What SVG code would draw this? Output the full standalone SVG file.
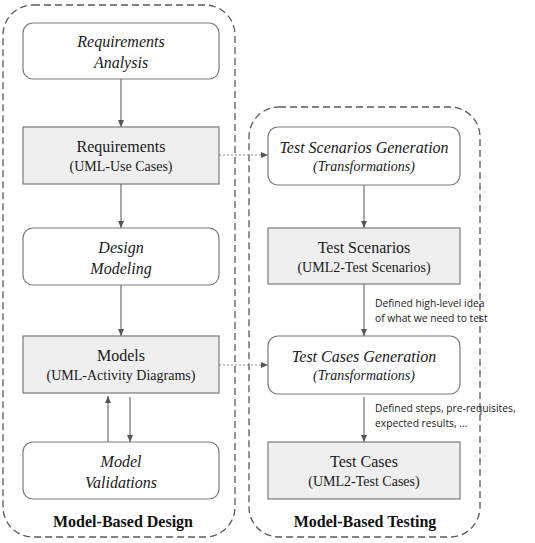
<svg xmlns="http://www.w3.org/2000/svg" width="535" height="543" viewBox="0 0 535 543">
<style>
.cont{fill:none;stroke:#5a5a5a;stroke-width:1.3;stroke-dasharray:7,4}
.rnd{fill:#ffffff;stroke:#7a7a7a;stroke-width:1.2}
.box{fill:#efefef;stroke:#7a7a7a;stroke-width:1.2}
.t1{font-size:16px;fill:#1a1a1a;text-anchor:middle}
.t2{font-size:14px;fill:#1a1a1a;text-anchor:middle}
.it{font-style:italic}
.title{font-size:16px;font-weight:bold;fill:#111;text-anchor:middle}
.lbl{font-size:10.3px;fill:#222}
.ln{fill:none;stroke:#555;stroke-width:1}
.dot{fill:none;stroke:#8a8a8a;stroke-width:1;stroke-dasharray:2,2}
</style>
<defs>
<marker id="ah" markerWidth="8" markerHeight="8" refX="7" refY="4" orient="auto" markerUnits="userSpaceOnUse">
<path d="M0,1 L7,4 L0,7 Z" fill="#555"/>
</marker>
</defs>
<rect class="cont" x="3" y="5" width="232" height="532" rx="30"/>
<rect class="cont" x="249" y="107" width="231" height="430" rx="30"/>
<g id="connectors">
<line class="ln" x1="121" y1="79" x2="121" y2="127" marker-end="url(#ah)"/>
<line class="ln" x1="121" y1="184" x2="121" y2="228" marker-end="url(#ah)"/>
<line class="ln" x1="121" y1="285" x2="121" y2="336" marker-end="url(#ah)"/>
<line class="ln" x1="108" y1="442" x2="108" y2="396" marker-end="url(#ah)"/>
<line class="ln" x1="130" y1="397" x2="130" y2="442" marker-end="url(#ah)"/>
<line class="ln" x1="364" y1="185" x2="364" y2="228" marker-end="url(#ah)"/>
<line class="ln" x1="364" y1="284" x2="364" y2="336" marker-end="url(#ah)"/>
<line class="ln" x1="364" y1="397" x2="364" y2="442" marker-end="url(#ah)"/>
<line class="dot" x1="219" y1="155" x2="268" y2="155" marker-end="url(#ah)"/>
<line class="dot" x1="219" y1="365" x2="268" y2="365" marker-end="url(#ah)"/>
<g font-family="Open Sans, Liberation Sans, sans-serif">
<text class="lbl" x="375" y="307">Defined high-level idea</text>
<text class="lbl" x="375" y="322">of what we need to test</text>
<text class="lbl" x="375" y="412">Defined steps, pre-requisites,</text>
<text class="lbl" x="375" y="427">expected results, ...</text>
</g>
</g>
<g font-family="Liberation Serif, Times New Roman, serif">
<g id="req-analysis">
<rect class="rnd" x="23" y="23" width="196" height="56" rx="10"/>
<text class="t1 it" x="121" y="47">Requirements</text>
<text class="t1 it" x="121" y="68">Analysis</text>
</g>
<g id="requirements">
<rect class="box" x="23" y="127" width="196" height="57"/>
<text class="t1" x="121" y="152">Requirements</text>
<text class="t2" x="121" y="171">(UML-Use Cases)</text>
</g>
<g id="design-modeling">
<rect class="rnd" x="23" y="228" width="196" height="57" rx="10"/>
<text class="t1 it" x="121" y="253">Design</text>
<text class="t1 it" x="121" y="274">Modeling</text>
</g>
<g id="models">
<rect class="box" x="23" y="336" width="196" height="57"/>
<text class="t1" x="121" y="361">Models</text>
<text class="t2" x="121" y="380">(UML-Activity Diagrams)</text>
</g>
<g id="model-validations">
<rect class="rnd" x="23" y="442" width="196" height="57" rx="10"/>
<text class="t1 it" x="121" y="467">Model</text>
<text class="t1 it" x="121" y="488">Validations</text>
</g>
<g id="mbd-title">
<text class="title" x="123" y="527">Model-Based Design</text>
</g>
<g id="ts-generation">
<rect class="rnd" x="268" y="127" width="192" height="58" rx="10"/>
<text class="t1 it" x="364" y="153">Test Scenarios Generation</text>
<text class="t2 it" x="364" y="171">(Transformations)</text>
</g>
<g id="test-scenarios">
<rect class="box" x="268" y="228" width="192" height="56"/>
<text class="t1" x="364" y="253">Test Scenarios</text>
<text class="t2" x="364" y="272">(UML2-Test Scenarios)</text>
</g>
<g id="tc-generation">
<rect class="rnd" x="268" y="336" width="192" height="58" rx="10"/>
<text class="t1 it" x="364" y="362">Test Cases Generation</text>
<text class="t2 it" x="364" y="380">(Transformations)</text>
</g>
<g id="test-cases">
<rect class="box" x="268" y="442" width="192" height="57"/>
<text class="t1" x="364" y="467">Test Cases</text>
<text class="t2" x="364" y="486">(UML2-Test Cases)</text>
</g>
<g id="mbt-title">
<text class="title" x="365" y="527">Model-Based Testing</text>
</g>
</g>
</svg>
